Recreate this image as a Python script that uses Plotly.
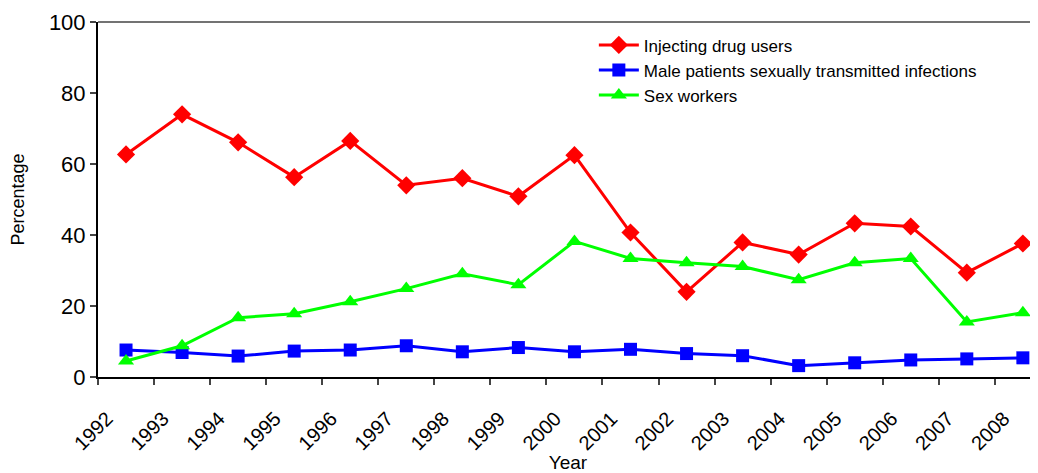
import plotly.graph_objects as go

years = [1992.5 + i for i in range(17)]
tick_years = list(range(1992, 2009))
tick_labels = [str(y) for y in tick_years]

idu = [62.7, 74.0, 66.1, 56.3, 66.5, 54.0, 56.0, 50.9, 62.5, 40.7, 24.0, 37.9, 34.5, 43.3, 42.4, 29.4, 37.6]
male_sti = [7.6, 6.9, 5.9, 7.3, 7.6, 8.8, 7.1, 8.3, 7.1, 7.8, 6.6, 6.0, 3.2, 4.0, 4.8, 5.1, 5.4]
sex_workers = [4.5, 8.8, 16.7, 17.8, 21.2, 24.9, 29.1, 26.0, 38.2, 33.4, 32.2, 31.1, 27.4, 32.2, 33.4, 15.5, 18.1]

font = "Liberation Sans, Arial, sans-serif"

fig = go.Figure()
fig.add_trace(go.Scatter(x=years, y=idu, mode="lines+markers", name="Injecting drug users",
                         line=dict(color="#FF0000", width=3),
                         marker=dict(symbol="diamond", size=14, color="#FF0000")))
fig.add_trace(go.Scatter(x=years, y=male_sti, mode="lines+markers",
                         name="Male patients sexually transmitted infections",
                         line=dict(color="#0000FF", width=3),
                         marker=dict(symbol="square", size=13, color="#0000FF")))
fig.add_trace(go.Scatter(x=years, y=sex_workers, mode="lines+markers", name="Sex workers",
                         line=dict(color="#00FF00", width=3),
                         marker=dict(symbol="triangle-up", size=14, color="#00FF00")))

# page body has an 8px default margin, so the figure is offset by (8, 8)
fig.update_layout(
    width=1030, height=465,
    margin=dict(l=90, r=0, t=14, b=96),
    paper_bgcolor="white", plot_bgcolor="white",
    font=dict(family=font, color="black"),
    showlegend=True,
    legend=dict(x=0.5275, y=0.985, xanchor="left", yanchor="top",
                font=dict(size=17, family=font), bgcolor="rgba(0,0,0,0)",
                tracegroupgap=0, itemwidth=40),
    shapes=[dict(type="line", xref="paper", yref="paper", x0=0, x1=1, y0=1, y1=1,
                 line=dict(color="#444444", width=1.5))],
)
fig.update_xaxes(
    range=[1992, 2008.77], tickmode="array", tickvals=tick_years, ticktext=tick_labels,
    tickangle=-45, tickfont=dict(size=20, family=font), automargin=False,
    ticklabelstandoff=14, ticklabelshift=9,
    ticks="outside", ticklen=6, tickwidth=1.5, tickcolor="#444444",
    showline=True, linecolor="black", linewidth=2, showgrid=False, zeroline=False,
    title=dict(text="Year", font=dict(size=19, family=font), standoff=2),
)
fig.update_yaxes(
    range=[0, 100], tickvals=[0, 20, 40, 60, 80, 100],
    tickfont=dict(size=22, family=font), automargin=False,
    ticks="outside", ticklen=6, tickwidth=1.5, tickcolor="#444444",
    showline=True, linecolor="black", linewidth=2, showgrid=False, zeroline=False,
    title=dict(text="Percentage", font=dict(size=18, family=font), standoff=20),
)

fig.write_html("out.html")
